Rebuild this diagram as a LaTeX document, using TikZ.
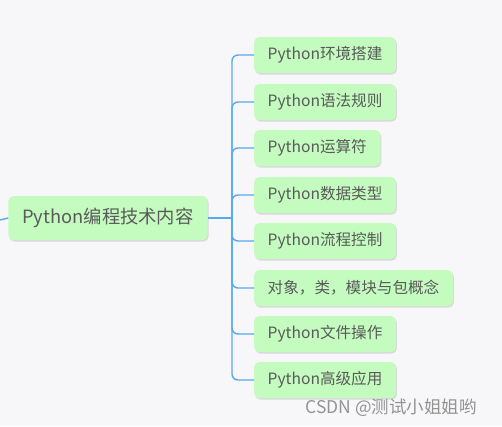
\documentclass[tikz,border=0pt]{standalone}
\usepackage{fontspec}
\setmainfont{Noto Sans CJK SC}
\usetikzlibrary{%
  calc,%
  positioning,%
  shadows%
}
\definecolor{bgc}{HTML}{F7F7F9}
\definecolor{boxc}{HTML}{C4FCC0}
\definecolor{linec}{HTML}{55AAF2}
\definecolor{txtc}{HTML}{5A5A5A}
\tikzset{>=latex,
  topic/.style={fill=boxc,rounded corners=5pt,text=txtc,
    drop shadow={opacity=0.25,shadow xshift=1pt,shadow yshift=-1.5pt}},
  rootbox/.style={topic,minimum height=44pt,inner xsep=14pt,
    font=\fontsize{18.3}{21}\selectfont},
  leafbox/.style={topic,minimum height=36pt,inner xsep=13.5pt,anchor=west,
    font=\fontsize{15.6}{18}\selectfont},
  link/.style={linec,line width=1.4pt,rounded corners=6pt}
}

\begin{document}
\begin{tikzpicture}[x=1pt,y=-1pt]
  \fill[bgc] (0,0) rectangle (502,426);
  \useasboundingbox (0,0) rectangle (502,426);
  \node[rootbox] (root) at (108,218) {Python编程技术内容};
  \coordinate (edge) at (0,220);
  \coordinate (hub) at (232,218);
  \draw[link] (edge) -- (root.west);
  \draw[link] (root.east) -- (hub);
  \foreach \name/\y/\txt in {
    env/55/Python环境搭建,
    syntax/102/Python语法规则,
    oper/148/Python运算符,
    dtype/195/Python数据类型,
    flow/241/Python流程控制,
    obj/288/{对象，类，模块与包概念},
    file/334/Python文件操作,
    adv/380/Python高级应用}
  {
    \node[leafbox] (\name) at (254,\y) {\txt};
    \draw[link] (hub) |- (\name.west);
  }
  \node[text=gray!85,font=\fontsize{17.5}{20}\selectfont] (mark) at (391,408) {CSDN @测试小姐姐哟};
\end{tikzpicture}
\end{document}
